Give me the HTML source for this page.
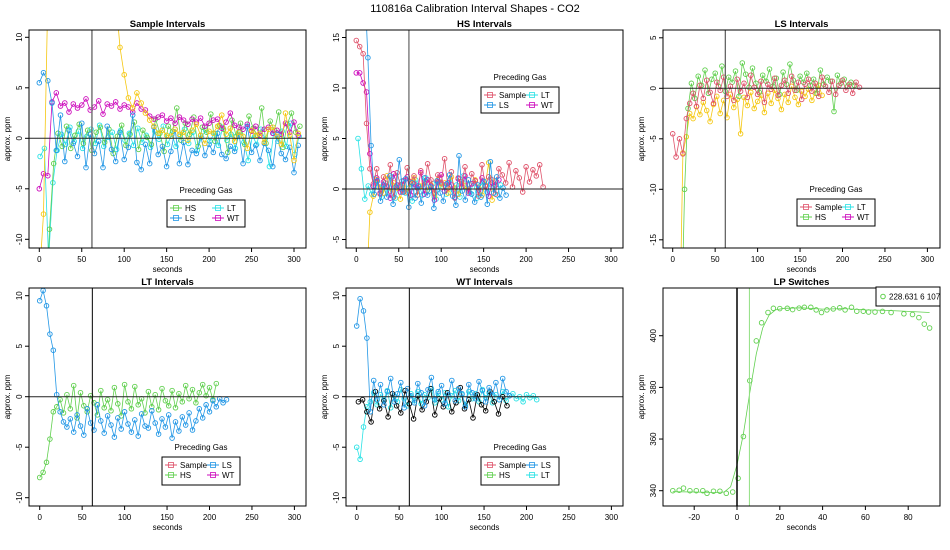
<!DOCTYPE html>
<html><head><meta charset="utf-8"><style>
body{margin:0;background:#fff}
svg{display:block;font-family:"Liberation Sans",sans-serif}
</style></head><body>
<svg id="c" width="950" height="550" viewBox="0 0 950 550" xmlns="http://www.w3.org/2000/svg">
<text x="475" y="12" text-anchor="middle" font-size="11">110816a   Calibration Interval Shapes - CO2</text>
</svg>
<script>
// ---- data (seconds step per series given separately) ----
const p1_HS=[-20,-20,-9,-2.5,0.5,-0.8,1.2,-1,0.3,1.4,-0.5,0.8,-1.2,0.6,1.1,-0.4,0.9,-1.5,0.2,1.3,-0.7,0.4,1.6,-1.1,0.8,0.1,-0.6,1.9,0.5,-1.3,1.2,0.7,3,-0.2,1.5,0.4,2.1,-0.8,1.1,0.6,2.4,-0.3,1.3,0.9,-1.4,1.8,0.2,1.5,-0.6,2.2,1,0.3,3,-0.5,1.7,0.8,2.6,-0.9,1.4,2.5,0.6,1.2];
const p1_LS=[5.5,6.5,5.7,3.5,-1.2,2.3,-2.3,0.8,-0.5,-1.8,1.5,-2.9,0.4,-1.5,-0.3,-2.9,1.2,-1.1,-2.3,0.6,-2.1,-0.9,2.3,-2.4,-3.1,-0.6,-2.5,1.1,-1.6,-0.8,-2.8,-1.3,0.9,-2.5,-0.4,-2.6,-1.2,-1.5,0.3,-1.7,-0.6,-1.4,0.5,-1.6,-2,-0.8,-1.3,0.6,-2.5,1.2,-1.4,-0.7,-2.2,-0.5,-1.2,-2.8,0.4,-1.5,-2.1,-0.9,-3.4,-0.7];
const p1_LT=[-1.8,-1,-12,-4.4,-1.2,0.4,-0.6,1.1,-0.3,0.7,-1,0.2,0.9,-0.5,1.3,-0.8,0.1,0.6,-1.1,0.8,-0.2,0.5,-0.7,1.0,-0.4,0.3,-0.9,0.7,-0.1,1.2,-0.6,0.4,-0.8,0.2,0.9,-0.5,0.6,-1.2,0.1,0.8,-0.3,0.5,-0.7,1.1,-0.2,0.4,-1.0,0.6,-0.4,-2.2,0.3,-0.6,0.9,-0.1,-2.8,0.5,-0.3,0.7,-0.8,1.5,-1.6,0.2];
const p1_WT=[-5,-3.5,-3.7,3.6,4.5,3.2,3.5,2.6,3.4,3.0,3.3,3.9,2.8,3.1,3.7,2.4,3.4,3.2,3.6,2.9,3.3,3.1,2.6,3.5,2.9,2.8,2.2,1.9,2.1,2.3,1.7,2.0,1.5,2.1,1.8,1.4,1.9,1.6,2.0,1.2,1.5,1.8,1.9,1.0,1.6,2.5,1.3,1.1,0.9,1.4,0.7,1.2,0.3,0.9,1.1,0.5,0.8,0.4,1.5,0.6,1.6,0.3];
const p1_Y=[-14,-7.5,14,14,14,14,14,14,14,14,14,14,14,14,14,14,14,14,14,9,6.3,4,3,4.5,3.5,2.5,1.8,1.2,0.5,0.8,0.3,0.2,0.9,0.4,0.6,-0.2,0.8,1.4,0.3,-0.5,0.7,0.5,1.2,2.3,0.4,1.0,-0.3,0.6,0.2,-1,0.8,0.3,0.5,-0.4,0.9,1.1,0.2,-0.6,2.5,0.3,-2.2,0.5];
const p2_Sample=[14.7,14.1,13.4,6.5,2,0.5,2,-0.5,1.2,0.3,2.4,-0.8,1.6,0.4,-0.3,2.1,0.7,1.3,-0.6,1.8,0.2,2.5,0.9,-0.4,1.4,0.6,3,0.1,1.7,-0.9,1.1,0.5,2.2,-0.2,1.5,0.8,-0.7,2.4,0.3,1.2,0.9,-0.5,2.0,1.4,0.6,2.6,0.2,1.8,1.1,-0.3,2.2,0.7,1.9,1.3,2.4,0.2];
const p2_LS=[20,13,4.3,-0.5,0.8,-1.2,0.4,-0.8,1.3,-1.5,0.2,2.9,-0.3,1,-1.8,0.6,-0.9,0.3,-1.4,1.1,-0.6,0.2,-1.9,0.8,-0.4,-1.2,0.5,1.4,-0.7,-1.6,3.3,-0.2,-1.1,0.9,-0.5,-1.3,0.4,-0.8,0.7,-1.5,2.7,-0.4,1.2,-0.9,0.1,-0.6];
const p2_LT=[5,2,-1,0.3,-0.5,1,0.2,-0.8,0.6,-0.3,1.2,-0.9,0.4,0.8,-0.4,0.1,-1.2,0.9,0.3,-0.6,1.1,-0.2,0.5,-1,0.7,0.2,-0.5,0.9,-0.1,0.4,-0.8,1.3,0.1,-0.4,0.6,-0.9,0.3,0.8,-0.3,0.5,0.2,-0.6,0.4];
const p2_WT=[11.5,11.5,10.5,9.6,3.5,0.3,1.1,-0.4,0.7,0.2,-0.9,1.5,0.4,-0.3,0.8,1.2,-0.6,0.5,0.1,1.6,-0.5,0.9,0.3,-1.1,0.7,1.4,-0.2,0.6,0.4,-0.8,1.0,0.2,1.3,-0.4,0.5,0.8,-0.1,1.1,0.3,-0.7,0.6,0.4,0.9];
const p2_Y=[-10,-2.3,-0.7,0.9,0.2,-0.4,1.3,-0.2,0.6,0.1,-1,0.8,-0.3,0.5,1.1,-0.6,0.3,0.7,-0.1,0.4,-0.8,0.9,0.2,0.6,-0.4,1.2,0.1,-0.5,0.7,0.3,-0.2,0.5,0.9,0.1,-0.6,0.4,2.6,-1.1,0.8];
const p3_Sample=[-4.5,-6.8,-5,-6.5,-3,-1.5,-0.5,-1.8,0.3,-1,0.8,-0.4,-1.5,0.6,-0.2,1.1,-0.8,0.2,-1.2,0.9,-0.3,0.5,-0.9,1.3,0.1,-0.6,0.7,-1.4,0.4,-0.1,1.0,-0.7,0.3,0.8,-0.5,1.2,-0.2,0.6,-1.1,0.4,0.9,-0.3,0.5,-0.8,1.1,0.2,-0.4,0.7,-0.6,0.3,0.8,-0.2,0.4,-0.5,0.6,0.1];
const p3_HS=[-25,-25,-25,-10,-2,0.5,-1,1.2,0.3,1.8,-0.5,0.9,1.5,0.2,2.2,-0.3,1.1,0.6,1.7,-0.8,2.5,1.4,0.1,2.0,0.5,-0.4,1.3,0.7,1.9,0.2,1.0,-0.6,1.6,0.4,2.4,0.8,-0.2,1.2,0.6,1.5,0.3,0.9,-0.5,1.8,0.4,1.1,0.7,-2.3,1.3,0.5,0.9,0.2,0.6,0.3];
const p3_Y=[-25,-25,-25,-6.4,-4.8,-2.5,-3,-1.8,-2.6,-1.4,-2.2,-3.3,-1.6,-0.8,-2.5,-1.2,-2.9,-0.6,-1.9,-1.1,-4.5,-0.9,-1.7,-0.4,-2.0,-1.3,-0.7,-2.4,-0.5,-1.5,-0.2,-1.0,-2.1,-0.6,-1.4,0.2,-0.9,-1.6,-0.3,-0.8,-0.1,-1.2,-0.5,0.3,-0.7];
const p4_LS=[9.5,10.5,9,6.2,4.6,0.2,-1.5,-2.5,-3,-2.2,-3.5,-1.8,-2.9,-3.8,-1.2,-2.6,-3.3,-0.8,-2.4,-3.6,-1.9,-2.8,-4.0,-2.1,-3.2,-1.5,-2.7,-3.5,-2.3,-3.9,-1.7,-2.9,-3.1,-1.4,-2.6,-3.7,-2.2,-3.0,-1.8,-4.1,-2.5,-3.4,-2.0,-2.8,-1.6,-3.3,-2.4,-1.2,-2.1,-0.8,-1.5,-0.4,-1.0,-0.2,-0.6,-0.3];
const p4_HS=[-8,-7.5,-6.5,-4.2,-1.5,-1,-0.3,-1.6,0.2,-1.2,1.1,-2.1,0.4,-0.9,-1.5,0.1,-0.6,-1.8,0.6,-1.1,-0.3,-1.4,0.9,-0.7,-1.9,1.2,-0.5,-1.2,1.0,-0.8,-0.2,-1.6,0.5,-1.0,0.2,-1.3,0.8,-0.4,-0.9,0.6,-1.1,0.3,-0.5,1.1,-0.2,0.7,-0.6,0.4,1.2,0.1,0.9,-0.3,1.3];
const p5_LS=[7,9.7,8.5,5.8,-1.5,1.6,-0.3,1.2,-0.8,0.5,1.8,-0.5,0.3,1.4,-1.1,0.8,0.1,-0.6,1.3,0.4,-0.9,0.7,1.9,-0.3,0.5,1.1,-0.7,0.2,1.6,-0.4,0.8,0.3,-1.0,1.2,0.4,-0.2,1.5,0.6,-0.5,0.9,0.2,1.4,-0.3,1.8,0.5,0.1];
const p5_Sample=[-0.5,-0.3,-1.5,-2.5,0.5,-1.2,-0.4,-2.0,0.3,-0.9,-1.6,0.6,-0.7,-2.2,0.1,-1.3,-0.5,0.8,-1.8,-0.2,-1.0,0.4,-1.5,-0.6,0.9,-1.2,-0.3,-2.1,0.2,-0.8,-1.4,0.5,-0.5,-1.7,0.0,-0.9];
const p5_LT=[-5,-6.2,-3,-1,-0.5,0.4,-0.8,0.2,-0.3,0.6,-1.1,0.1,-0.5,0.7,-0.2,-0.9,0.3,-0.4,0.5,-0.7,0.2,-0.1,0.8,-0.6,0.3,-0.3,0.4,-1.0,0.1,0.6,-0.4,0.2,-0.8,0.5,-0.2,0.3,-0.5,0.7,-0.1,0.4,-0.6,0.2,-0.3,0.5,-0.4,0.1,0.3,-0.2,0.0,-0.5,0.2,-0.1,0.1,-0.3];
const lp_t=[-30,-27,-25,-22,-19,-16,-14,-11,-8,-5,-2,0.5,3,6,9,11.5,14.5,17,20,23.5,26,29,31.5,34.5,37,39.5,42,45,48,50.5,53.5,56,59,61.5,64.5,68,72,78,82,85,87.5,90];
const lp_v=[340,340.2,341,340,340,340,339,339.8,339.8,339,339.5,344.8,361,382.6,398,405,409,410.6,410.5,410.6,410.1,410.7,411,411,410,409,410,410.4,410.8,410,411,409.5,409.5,409.2,409.2,409.4,409,408.5,408.2,407,404.5,403];
const lp_fit_t=[-30,-20,-10,-6,-3,0,3,6,9,12,15,18,22,30,40,50,60,70,80,90];
const lp_fit_v=[339.6,339.5,339.3,339.5,341.5,350,362,378,393,403,408,410,410.6,410.8,410.3,410.5,410,409.8,409.4,409];
const xticksA=[0,50,100,150,200,250,300];
const lp_xticks=[-20,0,20,40,60,80];
const lp_yticks=[340,360,380,400];
// ---- rendering ----
const C={Sample:'#DF536B',HS:'#61D04F',LS:'#2297E6',LT:'#28E2E5',WT:'#CD0BBC',Y:'#F5C710',K:'#000000'};
const svg=document.getElementById('c');
const NS='http://www.w3.org/2000/svg';
function mk(tag,a,parent){const e=document.createElementNS(NS,tag);for(const k in a)e.setAttribute(k,a[k]);(parent||svg).appendChild(e);return e;}
let clipN=0;
function panel(o){
  const g=mk('g',{});
  
  
  const sx=v=>o.x0+(v-o.xmin)*o.kx, sy=v=>o.y0-(v-o.ymin)*o.ky;
  const id='cl'+(clipN++);
  const cp=mk('clipPath',{id:id},g);mk('rect',{x:o.L,y:o.T,width:o.R-o.L,height:o.B-o.T},cp);
  const pg=mk('g',{'clip-path':'url(#'+id+')'},g);
  (o.series||[]).forEach(s=>{
    const sg=mk('g',{},pg);
    
    
    const xs=s.t?s.t:s.v.map((_,i)=>s.start+i*s.step);
    if(!s.noLine){const pts=s.v.map((v,i)=>sx(xs[i]).toFixed(1)+','+sy(v).toFixed(1)).join(' ');
      mk('polyline',{points:pts,fill:'none',stroke:s.c,'stroke-width':0.8},sg);}
    if(!s.noPts)s.v.forEach((v,i)=>{const c=mk('circle',{cx:sx(xs[i]).toFixed(1),cy:sy(v).toFixed(1),r:2.3,fill:'none',stroke:s.c,'stroke-width':0.9},sg);
      
      });
  });
  (o.vlines||[]).forEach(v=>{mk('line',{x1:sx(v.x),x2:sx(v.x),y1:o.T,y2:o.B,stroke:v.c,'stroke-width':v.w||1},pg);});
  if(o.hline!==undefined)mk('line',{x1:o.L,x2:o.R,y1:sy(o.hline),y2:sy(o.hline),stroke:'#222','stroke-width':1},pg);
  const box=mk('rect',{x:o.L,y:o.T,width:o.R-o.L,height:o.B-o.T,fill:'none',stroke:'#000','stroke-width':1},g);
  
  const xa=mk('g',{},g);
  mk('line',{x1:sx(o.xt[0]),x2:sx(o.xt[o.xt.length-1]),y1:o.B,y2:o.B,stroke:'#000'},xa);
  o.xt.forEach(t=>{mk('line',{x1:sx(t),x2:sx(t),y1:o.B,y2:o.B+4,stroke:'#000'},xa);
    const tx=mk('text',{x:sx(t),y:o.B+14,'text-anchor':'middle','font-size':8},xa);tx.textContent=t;});
  const xl=mk('text',{x:(o.L+o.R)/2,y:o.B+24,'text-anchor':'middle','font-size':8},g);xl.textContent='seconds';
  
  const ya=mk('g',{},g);
  mk('line',{x1:o.L,x2:o.L,y1:sy(o.yt[0]),y2:sy(o.yt[o.yt.length-1]),stroke:'#000'},ya);
  o.yt.forEach(t=>{mk('line',{x1:o.L,x2:o.L-4,y1:sy(t),y2:sy(t),stroke:'#000'},ya);
    const tx=mk('text',{x:o.L-7,y:sy(t),'text-anchor':'middle','font-size':8,transform:'rotate(-90 '+(o.L-7)+' '+sy(t)+')'},ya);tx.textContent=t;});
  const yl=mk('text',{x:o.L-19,y:(o.T+o.B)/2,'text-anchor':'middle','font-size':8,transform:'rotate(-90 '+(o.L-19)+' '+(o.T+o.B)/2+')'},g);yl.textContent='approx. ppm';
  
  const ti=mk('text',{x:(o.L+o.R)/2,y:o.T-3,'text-anchor':'middle','font-size':9.5,'font-weight':'bold'},g);ti.textContent=o.title;
  
  if(o.leg){const l=o.leg;const lg=mk('g',{},g);
    const lt=mk('text',{x:l.x+l.w/2,y:l.y-7,'text-anchor':'middle','font-size':8},lg);lt.textContent='Preceding Gas';
    mk('rect',{x:l.x,y:l.y,width:l.w,height:l.h,fill:'#fff',stroke:'#000'},lg);
    l.items.forEach((it,i)=>{const col=Math.floor(i/2),row=i%2;const ex=l.x+3+col*42,ey=l.y+8+row*10;
      const eg=mk('g',{},lg);
      mk('line',{x1:ex,x2:ex+12,y1:ey,y2:ey,stroke:C[it]},eg);
      mk('rect',{x:ex+3.5,y:ey-2.5,width:5,height:5,fill:'none',stroke:C[it],'stroke-width':0.8},eg);
      const t=mk('text',{x:ex+15,y:ey+3,'font-size':8},eg);t.textContent=it;});}
  return {g,sx,sy};
}
const topR={T:30,B:248},botR={T:288,B:506};
const k=10.1;
panel({name:'sample-intervals-panel',title:'Sample Intervals',L:29,R:306,...topR,x0:39.3,xmin:0,kx:0.849,y0:138.3,ymin:0,ky:k,
  xt:xticksA,yt:[-10,-5,0,5,10],hline:0,vlines:[{x:62,c:'#777',w:1.5}],
  series:[{label:'LT',c:C.LT,v:p1_LT,start:1,step:5},{label:'HS',c:C.HS,v:p1_HS,start:2,step:5},{label:'WT',c:C.WT,v:p1_WT,start:0,step:5},{label:'LS',c:C.LS,v:p1_LS,start:0,step:5},{label:'other',c:C.Y,v:p1_Y,start:0,step:5}],
  leg:{x:167,y:200,w:78,h:27,items:['HS','LS','LT','WT']}});
panel({name:'hs-intervals-panel',title:'HS Intervals',L:346,R:623,...topR,x0:356.3,xmin:0,kx:0.849,y0:189,ymin:0,ky:k,
  xt:xticksA,yt:[-5,0,5,10,15],hline:0,vlines:[{x:62,c:'#444'}],
  series:[{label:'LT',c:C.LT,v:p2_LT,start:2,step:4},{label:'other',c:C.Y,v:p2_Y,start:12,step:4},{label:'WT',c:C.WT,v:p2_WT,start:0,step:4},{label:'Sample',c:C.Sample,v:p2_Sample,start:0,step:4},{label:'LS',c:C.LS,v:p2_LS,start:10,step:3.7}],
  leg:{x:481,y:87,w:78,h:26,items:['Sample','LS','LT','WT']}});
panel({name:'ls-intervals-panel',title:'LS Intervals',L:663,R:940,...topR,x0:672.7,xmin:0,kx:0.849,y0:88.3,ymin:0,ky:k,
  xt:xticksA,yt:[-15,-10,-5,0,5],hline:0,vlines:[{x:62,c:'#666',w:1.3}],
  series:[{label:'other',c:C.Y,v:p3_Y,start:0,step:4},{label:'HS',c:C.HS,v:p3_HS,start:2,step:4},{label:'Sample',c:C.Sample,v:p3_Sample,start:0,step:4}],
  leg:{x:797,y:199,w:78,h:27,items:['Sample','HS','LT','WT']}});
panel({name:'lt-intervals-panel',title:'LT Intervals',L:29,R:306,...botR,x0:39.7,xmin:0,kx:0.849,y0:396.7,ymin:0,ky:k,
  xt:xticksA,yt:[-10,-5,0,5,10],hline:0,vlines:[{x:62,c:'#000'}],
  series:[{label:'HS',c:C.HS,v:p4_HS,start:0,step:4},{label:'LS',c:C.LS,v:p4_LS,start:0,step:4}],
  leg:{x:162,y:457,w:78,h:28,items:['Sample','HS','LS','WT']}});
panel({name:'wt-intervals-panel',title:'WT Intervals',L:346,R:623,...botR,x0:356.7,xmin:0,kx:0.849,y0:396.7,ymin:0,ky:k,
  xt:xticksA,yt:[-10,-5,0,5,10],hline:0,vlines:[{x:62,c:'#000'}],
  series:[{label:'LT',c:C.LT,v:p5_LT,start:0,step:4},{label:'Sample',c:C.K,v:p5_Sample,start:2,step:5},{label:'LS',c:C.LS,v:p5_LS,start:0,step:4}],
  leg:{x:481,y:457,w:78,h:28,items:['Sample','HS','LS','LT']}});
panel({name:'lp-switches-panel',title:'LP Switches',L:663,R:940,...botR,x0:737,xmin:0,kx:2.14,y0:490.7,ymin:340,ky:2.583,
  xt:lp_xticks,yt:lp_yticks,vlines:[{x:0,c:'#000',w:1.5},{x:5.8,c:'#90e080',w:1}],
  series:[{label:'fit',c:C.HS,v:lp_fit_v,t:lp_fit_t,noPts:true},{label:'lp-points',c:C.HS,v:lp_v,t:lp_t,noLine:true}]});
const lg=mk('g',{});
mk('rect',{x:876,y:287,width:64,height:19,fill:'#fff',stroke:'#000'},lg);
mk('circle',{cx:883,cy:296.5,r:2.3,fill:'none',stroke:C.HS},lg);
const lt=mk('text',{x:889,y:299.5,'font-size':8},lg);lt.textContent='228.631 6 107';
</script>
</body></html>
